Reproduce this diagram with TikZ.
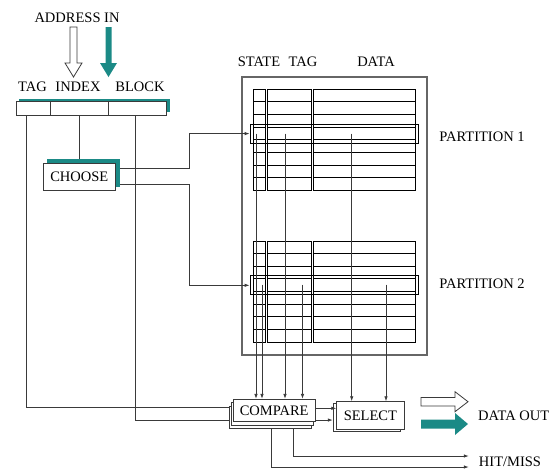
\documentclass[tikz,border=0pt]{standalone}
\usepackage{fontspec}
\setmainfont{Liberation Serif}
\usetikzlibrary{arrows.meta,shadows}
\definecolor{cacheTeal}{HTML}{1B8A86}
\definecolor{cacheWire}{HTML}{3A3A3A}

\begin{document}
\begin{tikzpicture}[x=1pt,y=-1pt,font=\fontsize{14.5}{16}\selectfont,
  lbl/.style={inner sep=0pt},
  wire/.style={draw=cacheWire,line width=0.8pt},
  tap/.style={wire,-{Latex[length=5pt,width=3.5pt]}},
  field/.style={draw=cacheWire,line width=0.8pt,fill=white,minimum height=13.3pt,inner sep=0pt},
  card/.style={draw=cacheWire,line width=0.8pt,fill=white,inner sep=0pt},
  cell/.style={draw=black,line width=1pt},
  rowbox/.style={draw=black,line width=0.8pt,minimum width=168pt,minimum height=19pt,inner sep=0pt}]
\useasboundingbox (0,0) rectangle (554,469);
\node[lbl] (addrin) at (77,17.5) {ADDRESS IN};
\draw[cacheWire,line width=0.8pt,fill=white] (70,27)--(77,27)--(77,63)--(82,63)--(73.5,77)--(65,63)--(70,63)--cycle;
\fill[cacheTeal] (105.5,27)--(111.5,27)--(111.5,63)--(117,63)--(108.5,77)--(100,63)--(105.5,63)--cycle;
\node[lbl] (tagl) at (32.5,87) {TAG};
\node[lbl] (indexl) at (78,87) {INDEX};
\node[lbl] (blockl) at (140,87) {BLOCK};
\fill[cacheTeal] (19,98.5) rectangle (169.7,112);
\node[field,minimum width=34.7pt] (tagf) at (33.35,108.35) {};
\node[field,minimum width=58pt] (indexf) at (79.7,108.35) {};
\node[field,minimum width=58pt] (blockf) at (137.7,108.35) {};
\node[card,minimum width=72.3pt,minimum height=27.4pt,
  copy shadow={shadow xshift=4pt,shadow yshift=4pt,fill=cacheTeal,draw=cacheTeal,line width=0.8pt}] (choose) at (79.3,177) {CHOOSE};
\draw[wire] (indexf.south -| choose.north) -- ([yshift=4pt]choose.north);

\node[lbl] (statel) at (259,62) {STATE};
\node[lbl] (tagcol) at (303,62) {TAG};
\node[lbl] (datal) at (376,62) {DATA};
\draw[black!60,line width=1.2pt] (242,77) rectangle (427,355);
\foreach \t [count=\p] in {89.3,241}{
  \foreach \l/\r in {253/265,267/311.5,313.5/415.5}{
    \draw[cell] (\l,\t) rectangle (\r,\t+101);
    \foreach \k in {1,...,7} \draw[cell] (\l,\t+12.625*\k) -- (\r,\t+12.625*\k);
  }
  \node[rowbox] (row\p) at (334,\t+44.3) {};
}
\node[lbl] (part1) at (482,137) {PARTITION 1};
\node[lbl] (part2) at (482,284) {PARTITION 2};

\node[card,minimum width=67.3pt,minimum height=27.3pt,
  copy shadow={shadow xshift=-3.3pt,shadow yshift=-2pt,draw=cacheWire,fill=white,line width=0.8pt}] (select) at (370.35,415.35) {SELECT};
\draw[tap] ([xshift=-2.7pt]blockf.south) |- ([shift={(-3.5,4.7)}]select.west);
\node[card,minimum width=81.7pt,minimum height=22.4pt,
  copy shadow={shadow xshift=-4pt,shadow yshift=-7pt,draw=cacheWire,fill=white,line width=0.8pt},
  copy shadow={shadow xshift=-2pt,shadow yshift=-3.5pt,draw=cacheWire,fill=white,line width=0.8pt}] (compare) at (274.15,410.5) {COMPARE};
\draw[wire] ([xshift=-7.35pt]tagf.south) |- ([shift={(-4,-3)}]compare.west);

\draw[tap] ([shift={(4,-9)}]choose.east) -| ([xshift=-60pt]row1.west) -- (row1.west);
\draw[tap] ([shift={(4,7)}]choose.east) -| ([xshift=-60pt]row2.west) -- (row2.west);
\foreach \x/\y/\n in {256/133.6/compare,285/133.6/compare,351.7/133.6/select,262/284.6/compare,302.5/284.6/compare,386/284.6/select}
  \draw[tap] (\x,\y) -- (\x,0 |- \n.north);
\draw[tap] ([yshift=2.2pt]compare.east) -- ([yshift=2.2pt]compare.east -| select.west);

\node[lbl] (dataout) at (513.7,416) {DATA OUT};
\draw[cacheWire,line width=0.8pt,fill=white] (421,397.5)--(455,397.5)--(455,391.7)--(468,401.7)--(455,411.7)--(455,405.9)--(421,405.9)--cycle;
\fill[cacheTeal] (421,419.5)--(455,419.5)--(455,413)--(468,424)--(455,435)--(455,428.5)--(421,428.5)--cycle;
\node[lbl] (hitmiss) at (510,461.5) {HIT/MISS};
\draw[tap] ([shift={(19,7.3)}]compare.south) |- ([shift={(-10,-5.5)}]hitmiss.west);
\draw[tap] ([shift={(-3.2,7.3)}]compare.south) |- ([shift={(-10,5.5)}]hitmiss.west);
\end{tikzpicture}
\end{document}
